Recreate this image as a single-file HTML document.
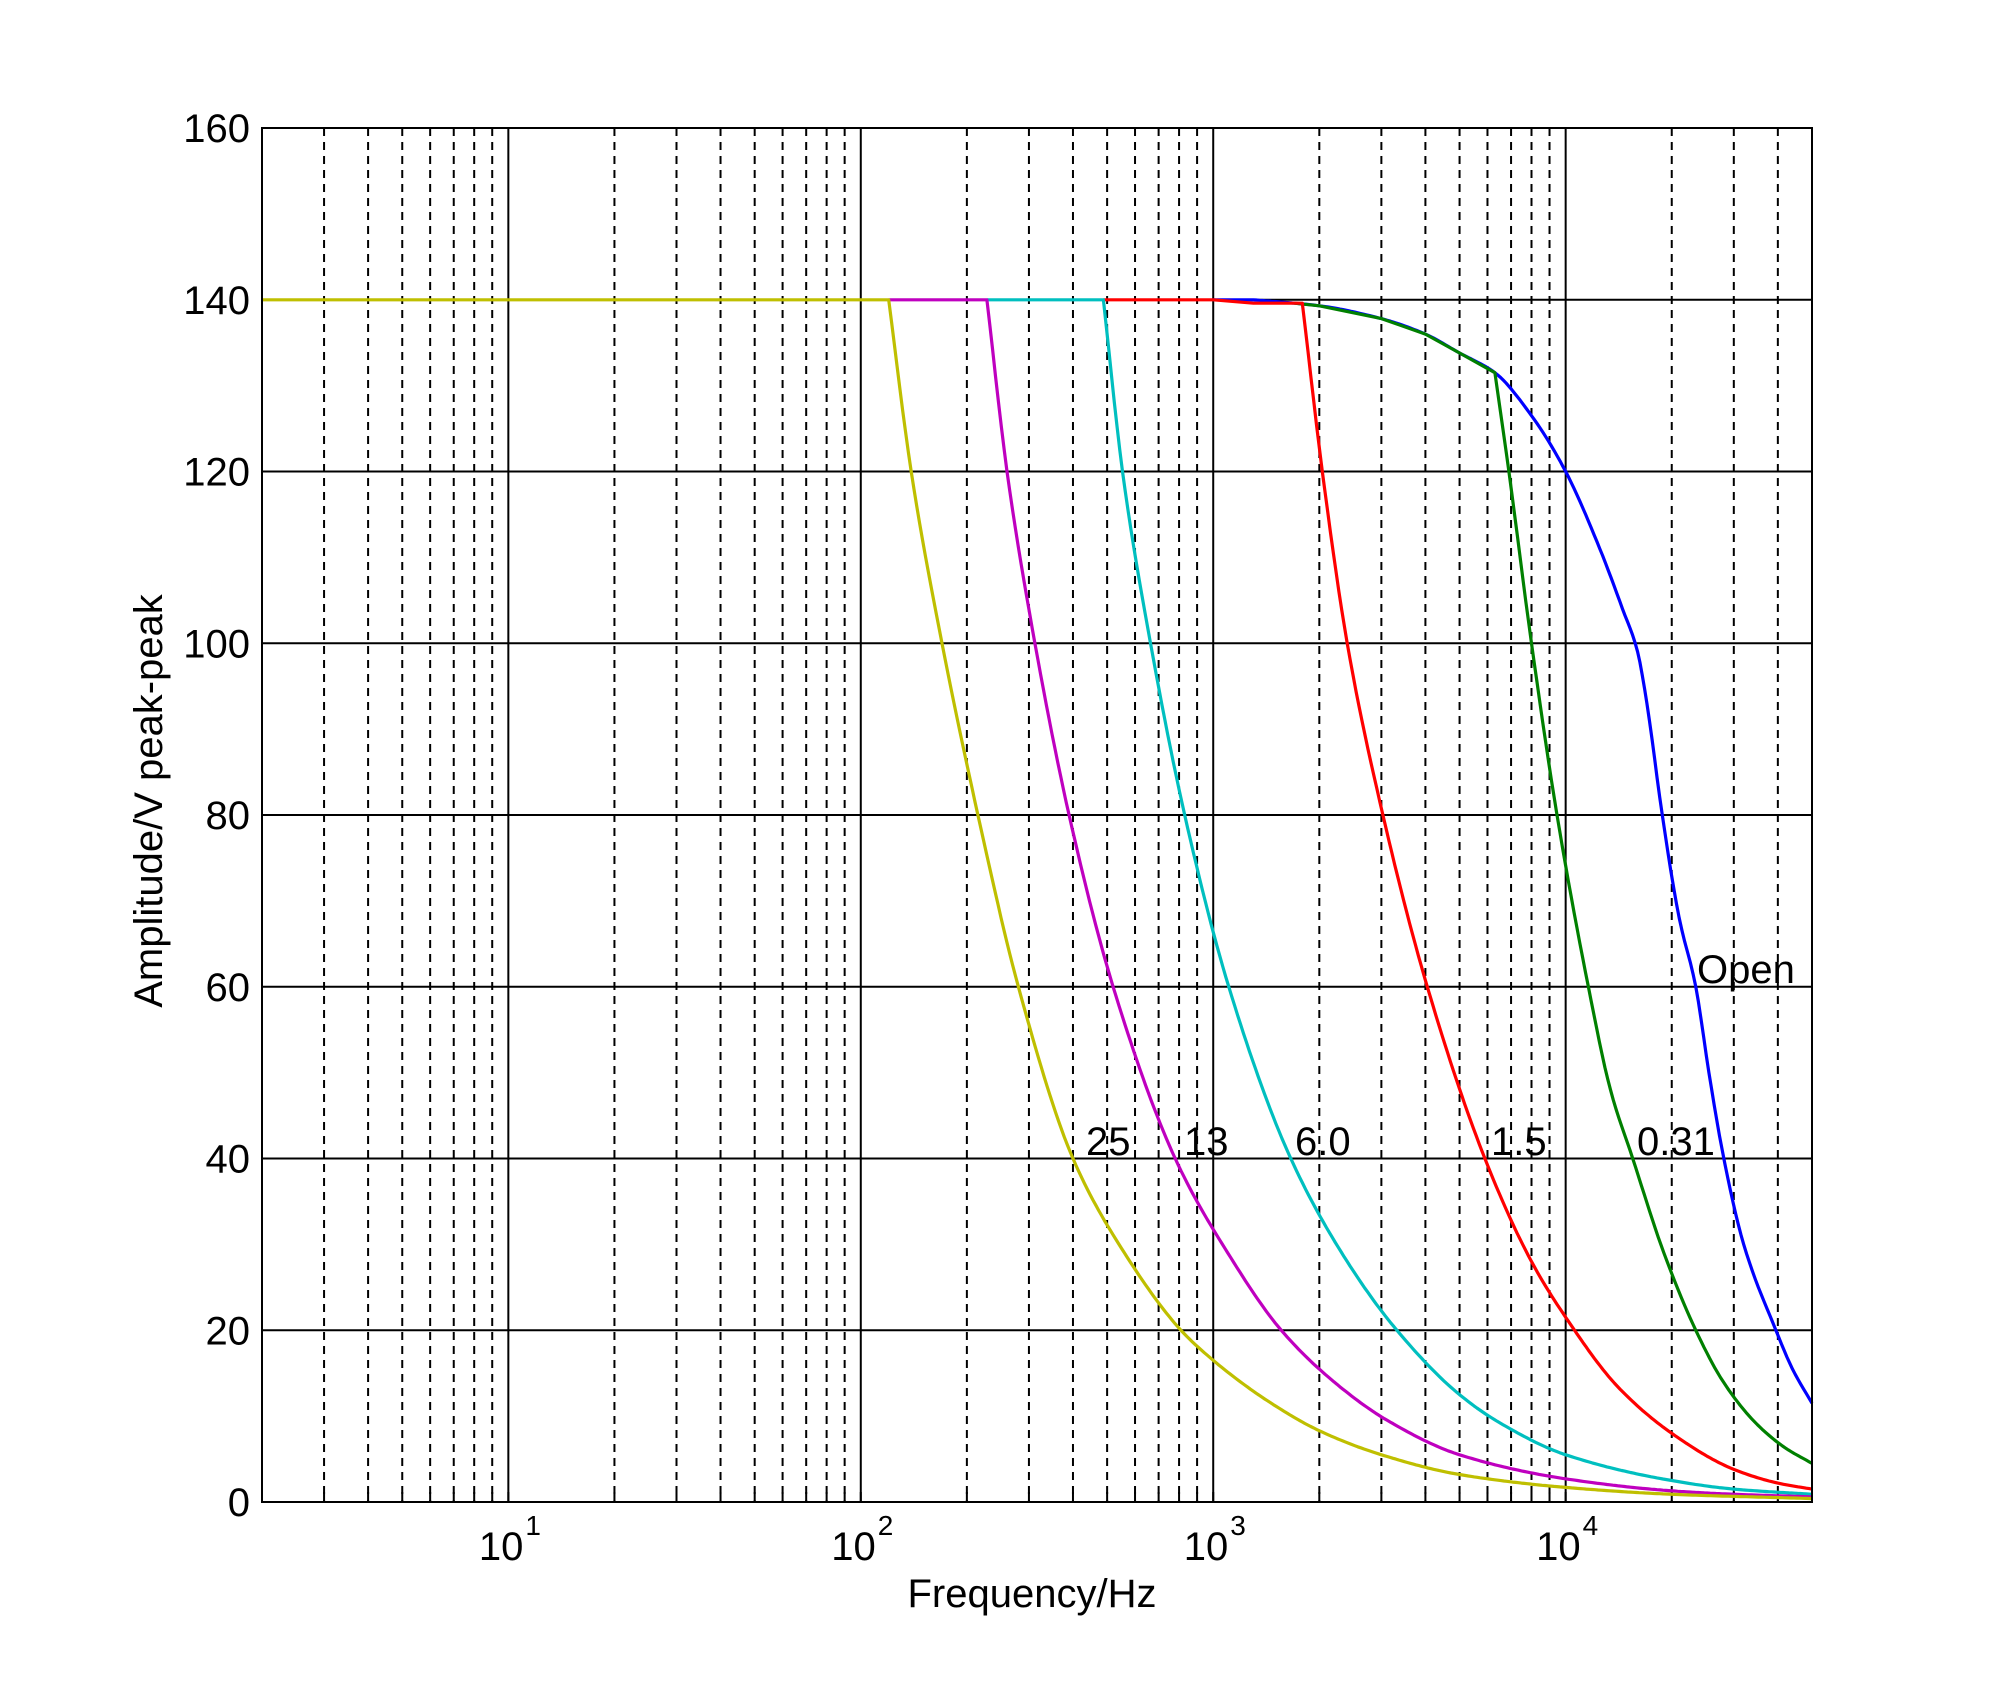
<!DOCTYPE html>
<html><head><meta charset="utf-8"><style>
html,body{margin:0;padding:0;background:#fff;}
svg{display:block;}
text{font-family:"Liberation Sans",Arial,sans-serif;fill:#000;}
</style></head><body>
<svg id="s" width="2000" height="1686" viewBox="0 0 2000 1686" xmlns="http://www.w3.org/2000/svg">
<rect width="2000" height="1686" fill="#fff"/>
<g id="grid"></g>
<g id="curves" fill="none" stroke-width="3.2" stroke-linejoin="round"></g>
<rect x="262" y="128" width="1550" height="1374" fill="none" stroke="#000" stroke-width="2"/>
<g id="lbl" font-size="40"></g>
<text x="1086" y="1155" font-size="40">25</text>
<text x="1184" y="1155" font-size="40">13</text>
<text x="1295" y="1155" font-size="40">6.0</text>
<text x="1491" y="1155" font-size="40">1.5</text>
<text x="1637" y="1155" font-size="40">0.31</text>
<text x="1697" y="983" font-size="40">Open</text>
<text x="1032" y="1607" font-size="40" text-anchor="middle">Frequency/Hz</text>
<text transform="translate(162,801) rotate(-90)" font-size="40" text-anchor="middle">Amplitude/V peak-peak</text>
</svg>
<script>
var NS="http://www.w3.org/2000/svg";
var L=262,R=1812,T=128,B=1502;
var lmin=Math.log10(2),lmax=Math.log10(50000);
function X(f){return L+(Math.log10(f)-lmin)/(lmax-lmin)*(R-L);}
function XL(l){return L+(l-lmin)/(lmax-lmin)*(R-L);}
function Y(a){return B-a*(B-T)/160;}
function el(p,n,a,t){var e=document.createElementNS(NS,n);for(var k in a)e.setAttribute(k,a[k]);if(t!==undefined)e.textContent=t;p.appendChild(e);return e;}
var g=document.getElementById('grid'),lb=document.getElementById('lbl');
for(var d=0;d<=4;d++){for(var m=1;m<=9;m++){var f=m*Math.pow(10,d);if(f<2||f>50000)continue;var x=X(f);
 if(m==1){el(g,'line',{x1:x,y1:T,x2:x,y2:B,stroke:'#000','stroke-width':2});}
 else{el(g,'line',{x1:x,y1:T,x2:x,y2:B,stroke:'#000','stroke-width':2,'stroke-dasharray':'8 6'});}
 el(g,'line',{x1:x,y1:B,x2:x,y2:B-10,stroke:'#000','stroke-width':2});
}}
for(var a=20;a<160;a+=20){el(g,'line',{x1:L,y1:Y(a),x2:R,y2:Y(a),stroke:'#000','stroke-width':2});}
for(var a=0;a<=160;a+=20){el(lb,'text',{x:250,y:Y(a)+14,'text-anchor':'end'},String(a));}
for(var d=1;d<=4;d++){var x=X(Math.pow(10,d));
 el(lb,'text',{x:x+15,y:1560,'text-anchor':'end'},'10');
 el(lb,'text',{x:x+17,y:1535,'font-size':28},String(d));}
// series: colour, flat points (linear), smooth points (pchip)
var C=[
['#0000ff',[[1000,140],[1300,140]],[[1300,140],[2000,139.3],[3000,137.8],[4000,136],[5000,133.8],[6300,131.5],[8000,126.5],[10000,120],[12500,111],[14500,104],[16000,99],[17000,93],[18800,80],[21000,68],[23400,60],[25500,50],[27800,41],[32000,30],[39500,20],[44000,15.5],[50000,11.5]]],
['#008000',[[1700,139.6],[2000,139.3],[3000,137.8],[4000,136],[5000,133.8],[6300,131.5]],[[6300,131.5],[6900,120],[8000,100],[9450,80],[11600,60],[13400,48],[15500,40],[19000,29],[23400,20],[28000,14],[35000,9],[42000,6.3],[50000,4.5]]],
['#ff0000',[[488,140],[1000,140],[1300,139.6],[1790,139.6]],[[1790,139.6],[2040,120],[2400,100],[3030,80],[4050,60],[5900,40],[8000,28],[10200,21],[14000,13.5],[20000,8],[30000,3.8],[40000,2.2],[50000,1.5]]],
['#00bfbf',[[228,140],[488,140]],[[488,140],[553,120],[664,100],[830,80],[1107,60],[1660,40],[2400,28],[3320,20],[5000,12.5],[6640,9],[10000,5.5],[20000,2.5],[30000,1.5],[50000,0.9]]],
['#bf00bf',[[120,140],[228,140]],[[228,140],[260,120],[312,100],[390,80],[520,60],[780,40],[1100,29],[1560,20],[2200,14],[3120,9.5],[5000,5.5],[10000,2.7],[20000,1.3],[30000,0.9],[50000,0.6]]],
['#bfbf00',[[2,140],[120,140]],[[120,140],[139,120],[170,100],[215,80],[280,60],[400,40],[560,29],[810,20],[1000,16.5],[1400,12],[2000,8.3],[3000,5.5],[5000,3.2],[10000,1.7],[20000,0.9],[50000,0.4]]]
];
function pchip(pts){var n=pts.length,x=[],y=[],h=[],dl=[],m=[];
 for(var i=0;i<n;i++){x.push(Math.log10(pts[i][0]));y.push(pts[i][1]);}
 for(var i=0;i<n-1;i++){h.push(x[i+1]-x[i]);dl.push((y[i+1]-y[i])/h[i]);}
 m[0]=dl[0];m[n-1]=dl[n-2];
 for(var i=1;i<n-1;i++){if(dl[i-1]*dl[i]<=0)m[i]=0;else{var w1=2*h[i]+h[i-1],w2=h[i]+2*h[i-1];m[i]=(w1+w2)/(w1/dl[i-1]+w2/dl[i]);}}
 var out=[];
 for(var i=0;i<n-1;i++){var N=Math.max(3,Math.ceil((XL(x[i+1])-XL(x[i]))/3));
  for(var k=(i==0?0:1);k<=N;k++){var t=k/N,t2=t*t,t3=t2*t;
   var v=(2*t3-3*t2+1)*y[i]+(t3-2*t2+t)*h[i]*m[i]+(-2*t3+3*t2)*y[i+1]+(t3-t2)*h[i]*m[i+1];
   out.push([XL(x[i]+t*h[i]),Y(v)]);}}
 return out;}
var cg=document.getElementById('curves');
C.forEach(function(c){var s='';
 c[1].forEach(function(p,i){s+=(i?'L':'M')+X(p[0]).toFixed(1)+' '+Y(p[1]).toFixed(1);});
 pchip(c[2]).forEach(function(p){s+='L'+p[0].toFixed(1)+' '+p[1].toFixed(1);});
 el(cg,'path',{d:s,stroke:c[0]});});
</script>
</body></html>
